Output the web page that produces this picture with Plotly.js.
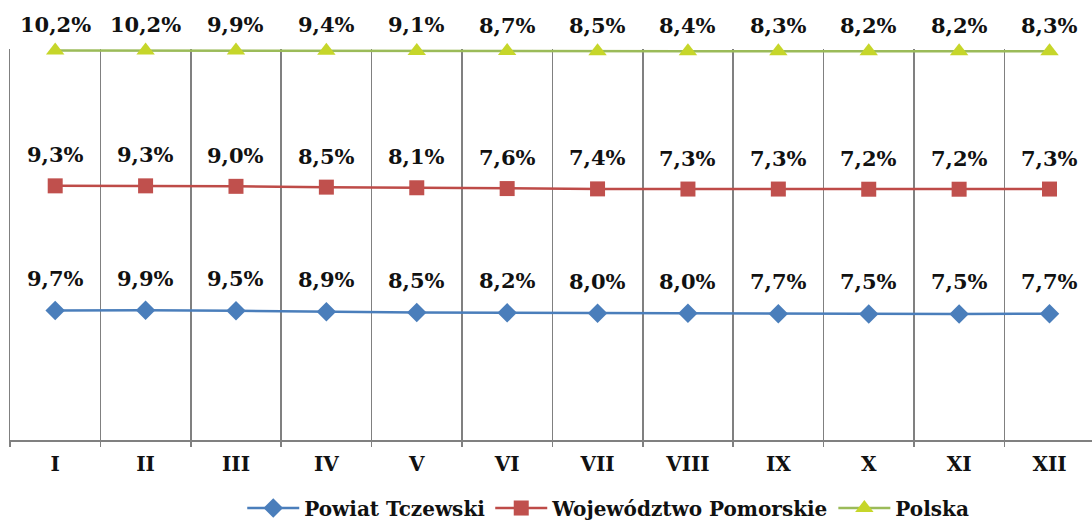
<!DOCTYPE html>
<html>
<head>
<meta charset="utf-8">
<script src="https://cdn.plot.ly/plotly-3.0.1.min.js"></script>
<style>html,body{margin:0;padding:0;background:#fff;}#chart{width:1092px;height:520px;}</style>
</head>
<body>
<div id="chart"></div>
<script>
const months = ['I','II','III','IV','V','VI','VII','VIII','IX','X','XI','XII'];
const powiat = [9.7,9.9,9.5,8.9,8.5,8.2,8.0,8.0,7.7,7.5,7.5,7.7];
const wojewodztwo = [9.3,9.3,9.0,8.5,8.1,7.6,7.4,7.3,7.3,7.2,7.2,7.3];
const polska = [10.2,10.2,9.9,9.4,9.1,8.7,8.5,8.4,8.3,8.2,8.2,8.3];
const seriesNames = ['Powiat Tczewski','Województwo Pomorskie','Polska'];

const T = 49, B = 440;
function mean(a){return a.reduce((s,v)=>s+v,0)/a.length;}
function rangeFor(vals, yPx, s){const m=mean(vals);return [m-(B-yPx)/s, m+(yPx-T)/s];}
function fmt(v){return v.toFixed(1).replace('.',',')+'%';}

const font = 'DejaVu Serif, Liberation Serif, serif';
const gray = '#808080';

const traces = [
  {x:months,y:powiat,name:seriesNames[0],yaxis:'y',type:'scatter',mode:'lines+markers',cliponaxis:false,
   line:{color:'#4a7ebb',width:2.5},marker:{symbol:'diamond',size:15,color:'#4a7ebb'}},
  {x:months,y:wojewodztwo,name:seriesNames[1],yaxis:'y2',type:'scatter',mode:'lines+markers',cliponaxis:false,
   line:{color:'#be4b48',width:2.5},marker:{symbol:'square',size:15,color:'#c0504d'}},
  {x:months,y:polska,name:seriesNames[2],yaxis:'y3',type:'scatter',mode:'lines+markers',cliponaxis:false,
   line:{color:'#9bbb59',width:2.5},marker:{symbol:'triangle-up',size:16,color:'#c6d62a'}}
];

const annotations = [];
const sets = [[powiat,'y',32],[wojewodztwo,'y2',31],[polska,'y3',26]];
sets.forEach(([vals,yr,sh])=>{
  vals.forEach((v,i)=>{
    annotations.push({x:months[i],y:v,xref:'x',yref:yr,text:fmt(v),showarrow:false,
      yshift:sh,yanchor:'middle',xanchor:'center',
      font:{family:font,size:21,color:'#111',weight:'bold'}});
  });
});

const layout = {
  width:1092,height:520,
  margin:{l:10,r:0,t:T,b:520-B},
  paper_bgcolor:'#fff',plot_bgcolor:'#fff',
  showlegend:true,
  legend:{orientation:'h',xref:'container',yref:'container',x:0.557,xanchor:'center',y:0.023,yanchor:'middle',
    font:{family:font,size:20,color:'#111',weight:'bold'},itemwidth:52},
  xaxis:{type:'category',range:[-0.5,11.47],tickson:'boundaries',showgrid:true,gridcolor:gray,gridwidth:1.5,
    ticks:'outside',ticklen:5,tickcolor:gray,tickwidth:1.5,showline:true,linecolor:gray,linewidth:1.5,
    ticklabelstandoff:5,
    tickfont:{family:font,size:20,color:'#111',weight:'bold'},fixedrange:true},
  yaxis:{range:rangeFor(powiat,312.5,1.6),showline:true,linecolor:gray,linewidth:1.5,showgrid:false,zeroline:false,
    showticklabels:false,ticks:''},
  yaxis2:{range:rangeFor(wojewodztwo,188,1.6),overlaying:'y',visible:false},
  yaxis3:{range:rangeFor(polska,51,0.4),overlaying:'y',visible:false},
  annotations:annotations
};

Plotly.newPlot('chart',traces,layout,{staticPlot:true,displayModeBar:false});
</script>
</body>
</html>
